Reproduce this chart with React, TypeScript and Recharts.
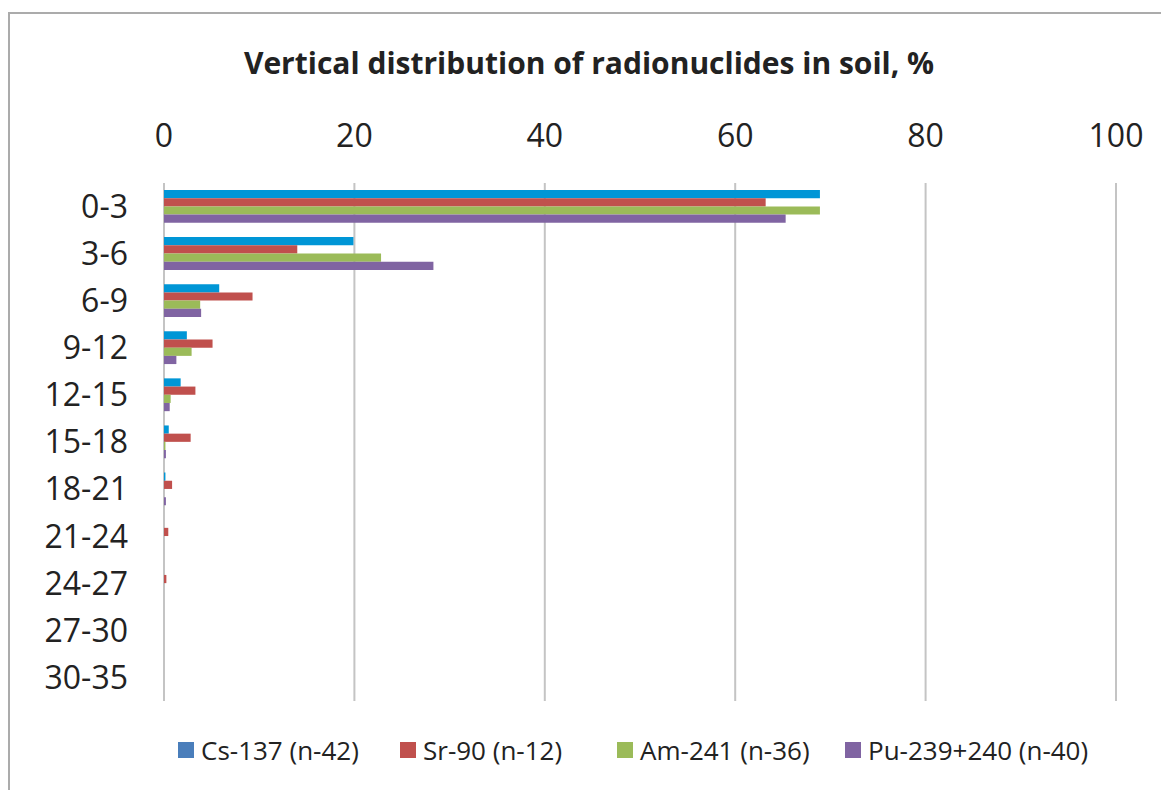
import React from 'react';
import { BarChart, Bar, XAxis, YAxis, CartesianGrid } from 'recharts';

// depth intervals, cm
const depths = ['0-3', '3-6', '6-9', '9-12', '12-15', '15-18', '18-21', '21-24', '24-27', '27-30', '30-35'];

// share of total inventory per layer, %
const cs137 = [68.9, 19.9, 5.8, 2.4, 1.75, 0.5, 0.15, 0, 0, 0, 0];
const sr90 = [63.2, 14.0, 9.3, 5.1, 3.3, 2.8, 0.85, 0.45, 0.25, 0, 0];
const am241 = [68.9, 22.8, 3.8, 2.9, 0.7, 0.15, 0, 0, 0, 0, 0];
const pu239 = [65.3, 28.3, 3.9, 1.3, 0.6, 0.2, 0.2, 0, 0, 0, 0];

const xTicks = [0, 20, 40, 60, 80, 100];

const seriesKeys = ['cs', 'sr', 'am', 'pu'];
const seriesNames = ['Cs-137 (n-42)', 'Sr-90 (n-12)', 'Am-241 (n-36)', 'Pu-239+240 (n-40)'];
const barColors = ['#0096D6', '#C0504D', '#9BBB59', '#8064A2'];
const legendColors = ['#4A7EBB', '#C0504D', '#9BBB59', '#8064A2'];
const legendWidths = [222, 217, 228, 260];

const FONT = '"Open Sans", "Noto Sans", sans-serif';

export default function App() {
  const data = depths.map((d, i) => ({
    depth: d,
    cs: cs137[i],
    sr: sr90[i],
    am: am241[i],
    pu: pu239[i],
  }));

  return (
    <div
      style={{
        position: 'fixed',
        left: 0,
        top: 0,
        width: 1161,
        height: 790,
        overflow: 'hidden',
        background: '#fff',
        fontFamily: FONT,
      }}
    >
      {/* chart frame, cropped on the right and bottom like the original */}
      <div
        style={{
          position: 'absolute',
          left: 8,
          top: 12,
          width: 1200,
          height: 820,
          border: '2px solid #ababab',
        }}
      />
      <div
        style={{
          position: 'absolute',
          left: 589 - 400,
          width: 800,
          top: 48,
          textAlign: 'center',
          fontSize: 30,
          lineHeight: '30px',
          fontWeight: 700,
          color: '#222',
          whiteSpace: 'nowrap',
        }}
      >
        Vertical distribution of radionuclides in soil, %
      </div>

      <div style={{ position: 'absolute', left: 0, top: 0 }}>
        <BarChart
          width={1161}
          height={790}
          data={data}
          layout="vertical"
          margin={{ top: 123, right: 45, bottom: 89, left: 0 }}
          barGap={0}
        >
          <CartesianGrid horizontal={false} stroke="#c4c4c4" strokeWidth={2} />
          <XAxis
            type="number"
            orientation="top"
            domain={[0, 100]}
            ticks={xTicks}
            height={60}
            axisLine={false}
            tickLine={false}
            tickSize={0}
            tickMargin={36}
            tick={{ fontSize: 32, fill: '#222', fontFamily: FONT }}
          />
          <YAxis
            type="category"
            dataKey="depth"
            width={164}
            axisLine={false}
            tickLine={false}
            tickSize={0}
            tickMargin={36}
            interval={0}
            tick={{ fontSize: 32, fill: '#222', fontFamily: FONT }}
          />
          {seriesKeys.map((k, i) => (
            <Bar
              key={k}
              dataKey={k}
              name={seriesNames[i]}
              fill={barColors[i]}
              barSize={8.2}
              isAnimationActive={false}
            />
          ))}
        </BarChart>
      </div>

      <div
        style={{
          position: 'absolute',
          left: 178,
          top: 735,
          display: 'flex',
          alignItems: 'center',
          fontSize: 26,
          lineHeight: '30px',
          color: '#222',
          whiteSpace: 'nowrap',
        }}
      >
        {seriesNames.map((n, i) => (
          <div key={n} style={{ display: 'flex', alignItems: 'center', width: legendWidths[i] }}>
            <span
              style={{
                display: 'inline-block',
                width: 16,
                height: 16,
                background: legendColors[i],
                marginRight: 7,
              }}
            />
            <span>{n}</span>
          </div>
        ))}
      </div>
    </div>
  );
}
